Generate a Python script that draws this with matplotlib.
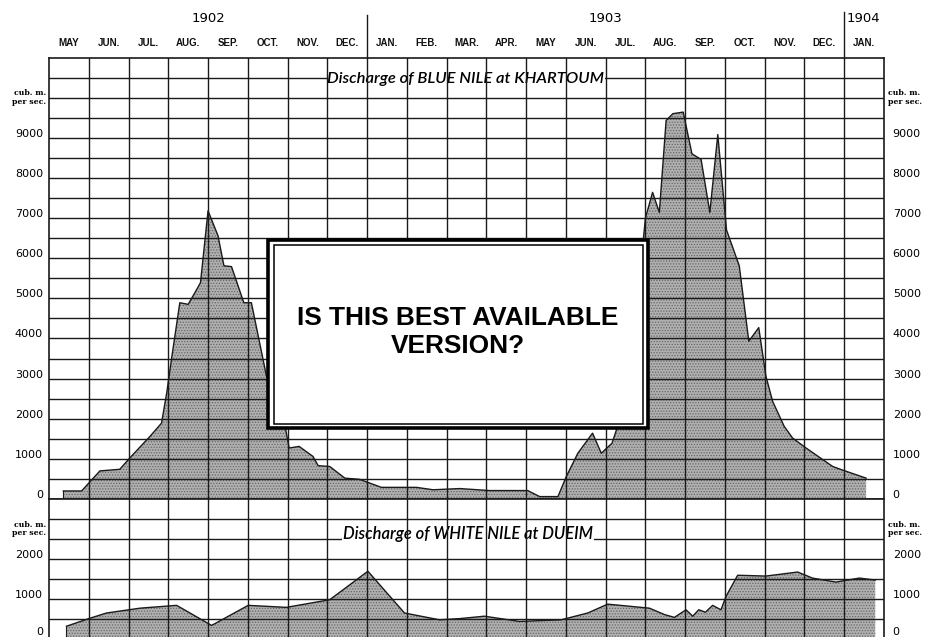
import matplotlib
matplotlib.use("Agg")
import matplotlib.pyplot as plt
from matplotlib import transforms
from matplotlib.patches import Rectangle
from matplotlib.lines import Line2D

# ---------------- data (months since 1 May 1902) ----------------
months = ["MAY", "JUN.", "JUL.", "AUG.", "SEP.", "OCT.", "NOV.", "DEC.",
          "JAN.", "FEB.", "MAR.", "APR.", "MAY", "JUN.", "JUL.", "AUG.",
          "SEP.", "OCT.", "NOV.", "DEC.", "JAN."]
years = ["1902", "1903", "1904"]
year_pos = [4.0, 14.0, 20.05]

blue_m = [0.36, 0.82, 1.28, 1.78, 2.03, 2.54, 2.83, 2.96, 3.08, 3.29, 3.50,
          3.67, 3.81, 4.00, 4.25, 4.40, 4.59, 4.90, 5.09, 5.47, 5.93, 6.04,
          6.29, 6.64, 6.77, 7.06, 7.44, 7.81, 8.36, 9.24, 9.66, 10.33, 11.08,
          12.04, 12.34, 12.80, 13.01, 13.30, 13.67, 13.89, 14.16, 14.30, 14.6,
          15.0, 15.18, 15.35, 15.52, 15.69, 15.95, 16.17, 16.40, 16.62, 16.82,
          17.04, 17.36, 17.60, 17.85, 18.03, 18.20, 18.49, 18.70, 19.04, 19.71,
          19.96, 20.55]
blue_v = [200, 200, 700, 740, 1020, 1560, 1890, 2640, 3480, 4890, 4850,
          5140, 5390, 7180, 6560, 5810, 5790, 4890, 4890, 3060, 1850, 1270,
          1310, 1060, 830, 810, 520, 490, 290, 290, 230, 260, 210,
          210, 60, 60, 560, 1140, 1640, 1140, 1390, 1810, 3000,
          7000, 7640, 7140, 9430, 9600, 9640, 8600, 8460, 7140, 9080,
          6700, 5810, 3930, 4270, 3060, 2430, 1810, 1520, 1270, 810,
          720, 520]

white_m = [0.44, 1.03, 1.45, 2.29, 3.21, 4.09, 5.01, 5.97, 7.06, 8.02, 8.94,
           9.82, 10.33, 10.95, 11.83, 12.88, 13.55, 14.05, 15.10, 15.48, 15.73,
           16.02, 16.19, 16.34, 16.51, 16.69, 16.90, 17.03, 17.32, 18.03, 18.83,
           19.20, 19.79, 20.38, 20.78]
white_v = [330, 530, 660, 780, 850, 350, 850, 800, 990, 1700, 660,
           490, 520, 580, 450, 490, 660, 880, 780, 620, 550,
           740, 580, 740, 680, 850, 740, 1080, 1600, 1580, 1680,
           1530, 1430, 1530, 1480]

blue_ticks = [0, 1000, 2000, 3000, 4000, 5000, 6000, 7000, 8000, 9000]
white_ticks = [0, 1000, 2000]
blue_title = "Discharge of BLUE NILE at KHARTOUM"
white_title = "Discharge of WHITE NILE at DUEIM"
notice = "IS THIS BEST AVAILABLE\nVERSION?"

# ---------------- layout ----------------
W, H = 929, 637
fig = plt.figure(figsize=(W / 100, H / 100), dpi=100)
fig.patch.set_facecolor("white")

def fx(px):
    return px / W

def fy(py):
    return 1 - py / H

L, R = 49, 884
top1, bot1 = 57.5, 499
bot2 = bot1 + (bot1 - top1) * 3500 / 11000

ax1 = fig.add_axes([fx(L), fy(bot1), fx(R) - fx(L), fy(top1) - fy(bot1)])
ax2 = fig.add_axes([fx(L), fy(bot2), fx(R) - fx(L), fy(bot1) - fy(bot2)])

ink = "#1a1a1a"
fill_face = "#b0b0b0"
plt.rcParams["hatch.linewidth"] = 0.6

for ax, ymax, xm, yv in [(ax1, 11000, blue_m, blue_v), (ax2, 3500, white_m, white_v)]:
    ax.set_xlim(0, 21)
    ax.set_ylim(0, ymax)
    ax.set_xticks([])
    ax.set_yticks([])
    for s in ax.spines.values():
        s.set_color(ink)
        s.set_linewidth(1.2)
        s.set_zorder(6)
    ax.fill_between(xm, 0, yv, facecolor=fill_face, edgecolor="#666666",
                    hatch="......", linewidth=0, zorder=0.5)
    ax.plot(xm, yv, color=ink, lw=1.0, zorder=0.8)
    ax.plot([xm[0], xm[0]], [0, yv[0]], color=ink, lw=0.8, zorder=0.8)
    for v in range(500, ymax, 500):
        ax.axhline(v, color=ink, lw=1.0, zorder=1)
    for m in range(1, 21):
        ax.axvline(m, color=ink, lw=1.0, zorder=3)

renderer = fig.canvas.get_renderer()

def fit_width(txt, target_px):
    w = txt.get_window_extent(renderer=renderer).width
    txt.set_fontsize(txt.get_fontsize() * target_px / w)

title_font = dict(family=["Lato", "DejaVu Sans"], style="italic", weight="semibold",
                  fontsize=12, color="black")
t1 = ax1.text(7.0, 10500, blue_title, ha="left", va="center_baseline", zorder=2,
              bbox=dict(facecolor="white", edgecolor="none", pad=0.5), **title_font)
t2 = ax2.text(7.39, 2500, white_title, ha="left", va="baseline", zorder=2,
              bbox=dict(facecolor="white", edgecolor="none", pad=0.5), **title_font)
fit_width(t1, 276)
fit_width(t2, 250)

num_font = dict(family="DejaVu Sans", fontsize=8, color="black")
unit_font = dict(family="DejaVu Serif", fontsize=5.6, weight="bold", color="black",
                 linespacing=1.1)
for ax, ticks, unit_y in [(ax1, blue_ticks, 10000), (ax2, white_ticks, 2750)]:
    for v in ticks:
        up = 7 if (ax is ax2 and v == 0) else 4
        tr = transforms.offset_copy(ax.transData, fig=fig, x=0, y=up, units="dots")
        ax.text(-0.15, v, f"{v}", ha="right", va="center", transform=tr,
                clip_on=False, **num_font)
        ax.text(21.22, v, f"{v}", ha="left", va="center", transform=tr,
                clip_on=False, **num_font)
    ax.text(-0.08, unit_y, "cub. m.\nper sec.", ha="right", va="center",
            clip_on=False, **unit_font)
    ax.text(21.1, unit_y, "cub. m.\nper sec.", ha="left", va="center",
            clip_on=False, **unit_font)

# month and year header
trans = transforms.blended_transform_factory(ax1.transData, fig.transFigure)
for i, name in enumerate(months):
    fig.text(i + 0.5, fy(43), name, transform=trans, ha="center", va="center",
             family="Liberation Sans", weight="bold", fontsize=7, color="#111111")
for name, pos in zip(years, year_pos):
    fig.text(pos, fy(18), name, transform=trans,
             ha="left" if name == "1904" else "center", va="center",
             family="DejaVu Sans", fontsize=9.5, color="black")
for m, ytop in [(8, 15), (20, 12)]:
    fig.add_artist(Line2D([m, m], [fy(ytop), fy(top1)], transform=trans,
                          color=ink, lw=1.0))

# overlay notice box
fig.add_artist(Rectangle((fx(268.5), fy(428)), fx(648) - fx(268.5), fy(240) - fy(428),
                         transform=fig.transFigure, facecolor="white",
                         edgecolor="black", lw=2.6, zorder=20))
fig.add_artist(Rectangle((fx(273.5), fy(423.5)), fx(643) - fx(273.5), fy(244.5) - fy(423.5),
                         transform=fig.transFigure, facecolor="white",
                         edgecolor="black", lw=1.1, zorder=21))
fig.text(fx(458), fy(332), notice, ha="center", va="center", zorder=22,
         family="Liberation Sans", weight="bold", fontsize=18.9, linespacing=1.25,
         color="black")

fig.savefig("out.png", dpi=100, facecolor="white")
